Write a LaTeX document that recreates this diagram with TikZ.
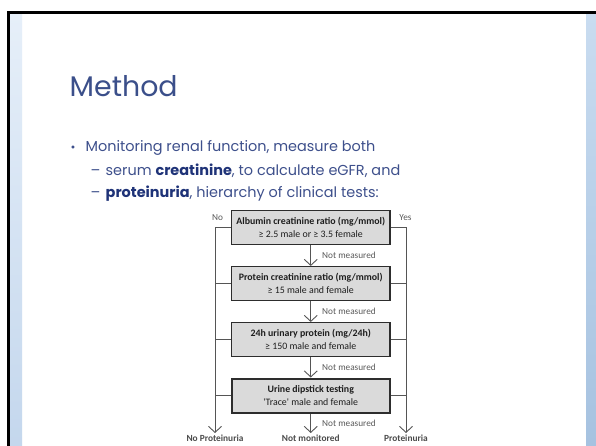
\documentclass[tikz,border=0pt]{standalone}
\usepackage{fontspec}
\setmainfont{Poppins}
\newfontfamily\calfont{Carlito}
\usetikzlibrary{arrows.meta}
\definecolor{titleclr}{RGB}{59,79,138}
\definecolor{bodyclr}{RGB}{62,80,140}
\definecolor{boldclr}{RGB}{31,51,120}
\definecolor{stripLtop}{RGB}{230,239,249}
\definecolor{stripLbot}{RGB}{196,215,237}
\definecolor{stripRtop}{RGB}{201,220,240}
\definecolor{stripRbot}{RGB}{166,194,224}
\definecolor{boxfill}{RGB}{218,218,218}
\definecolor{boxline}{RGB}{45,45,45}
\definecolor{lineclr}{RGB}{85,85,85}
\definecolor{lblclr}{RGB}{90,90,90}
\definecolor{boxtext}{RGB}{30,30,30}
\tikzset{
  flowbox/.style={draw=boxline, fill=boxfill, line width=1.1bp, minimum width=158.5bp,
    minimum height=34bp, inner sep=0pt, align=center, text=boxtext,
    font=\calfont\fontsize{9.9}{12.4}\selectfont},
  flowarr/.style={draw=lineclr, line width=0.9bp, -{Straight Barb[length=6bp,width=13bp]}},
  flowline/.style={draw=lineclr, line width=0.9bp},
  nmlabel/.style={text=lblclr, inner sep=1bp, font=\calfont\fontsize{9.3}{11}\selectfont},
  endlabel/.style={text=boxtext!80, inner sep=1.5bp, anchor=north, font=\calfont\bfseries\fontsize{9.4}{11}\selectfont},
  bodytext/.style={anchor=base west, inner sep=0pt, text=bodyclr, font=\fontsize{14.5}{17}\selectfont}
}
\begin{document}
\begin{tikzpicture}[x=1bp,y=-1bp]
\useasboundingbox (0,0) rectangle (596,446);
\fill[white] (0,0) rectangle (596,446);
% slide frame
\shade[top color=stripLtop, bottom color=stripLbot] (10,14) rectangle (22,446);
\shade[top color=stripRtop, bottom color=stripRbot] (586,14) rectangle (596,446);
\fill[black] (7,11) rectangle (596,14);
\fill[black] (7,11) rectangle (10,446);
% title and bullets
\node[anchor=base west, inner sep=0pt, text=titleclr, font=\fontsize{28.5}{34}\selectfont] (title) at (69.5,96.7) {Method};
\node[anchor=base, inner sep=0pt, text=bodyclr, font=\fontsize{12}{14}\selectfont] (bul) at (73,152) {•};
\node[bodytext] (l1) at (85.5,152) {Monitoring renal function, measure both};
\node[anchor=base, inner sep=0pt, text=bodyclr, font=\fontsize{14.5}{17}\selectfont] (d1) at (95.5,176) {–};
\node[bodytext] (l2) at (105.5,176) {serum \textbf{\textcolor{boldclr}{creatinine}}, to calculate eGFR, and};
\node[anchor=base, inner sep=0pt, text=bodyclr, font=\fontsize{14.5}{17}\selectfont] (d2) at (95.5,198) {–};
\node[bodytext] (l3) at (105.5,198) {\textbf{\textcolor{boldclr}{proteinuria}}, hierarchy of clinical tests:};
% flowchart boxes
\node[flowbox] (b1) at (310.75,227.5) {\textbf{Albumin creatinine ratio (mg/mmol)}\\≥ 2.5 male or ≥ 3.5 female};
\node[flowbox] (b2) at (310.75,283.5) {\textbf{Protein creatinine ratio (mg/mmol)}\\≥ 15 male and female};
\node[flowbox] (b3) at (310.75,339.5) {\textbf{24h urinary protein (mg/24h)}\\≥ 150 male and female};
\node[flowbox, line width=2bp] (b4) at (310.75,395.5) {\textbf{Urine dipstick testing}\\'Trace' male and female};
% side labels
\node[nmlabel] (no) at (217.5,218) {No};
\node[nmlabel] (yes) at (405.5,218) {Yes};
% end labels
\node[endlabel] (noprot) at (215,433) {No Proteinuria};
\node[endlabel] (notmon) at (310.75,433) {Not monitored};
\node[endlabel] (prot) at (406,433) {Proteinuria};
% side rails
\coordinate (ltop) at (215,227.5);
\coordinate (rtop) at (406,227.5);
\draw[flowarr] (b1.west) -- (ltop) -- (noprot.north);
\draw[flowarr] (b1.east) -- (rtop) -- (prot.north);
\foreach \b in {b2,b3,b4}{
  \draw[flowline] (\b.west) -- (\b.west -| ltop);
  \draw[flowline] (\b.east) -- (\b.east -| rtop);
}
% middle arrows
\draw[flowarr] (b1.south) -- node[nmlabel, anchor=west, xshift=10bp] (nm1) {Not measured} (b2.north);
\draw[flowarr] (b2.south) -- node[nmlabel, anchor=west, xshift=10bp] (nm2) {Not measured} (b3.north);
\draw[flowarr] (b3.south) -- node[nmlabel, anchor=west, xshift=10bp] (nm3) {Not measured} (b4.north);
\draw[flowarr] (b4.south) -- node[nmlabel, anchor=west, xshift=10bp] (nm4) {Not measured} (notmon.north);
\end{tikzpicture}
\end{document}
